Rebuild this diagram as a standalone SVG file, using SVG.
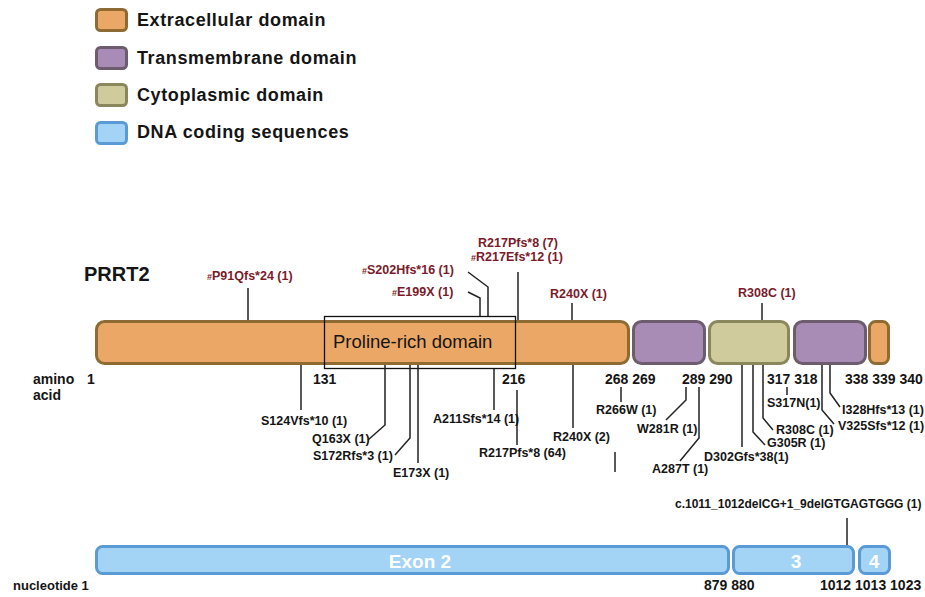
<svg xmlns="http://www.w3.org/2000/svg" width="925" height="597" viewBox="0 0 925 597">
  <style>
    text { font-family: "Liberation Sans", Arial, sans-serif; font-weight: bold; fill: #151515; }
    .leg { font-size: 18px; letter-spacing: 0.6px; }
    .num { font-size: 14px; }
    .mut { font-size: 12.5px; }
    .red { font-size: 12.5px; fill: #7a1b2b; }
    .hash { font-size: 9px; }
    .exon { font-size: 19px; fill: #ffffff; }
    .ext { fill: #eba766; stroke: #8e6b33; stroke-width: 3; }
    .tm { fill: #a98cb5; stroke: #6d5b6e; stroke-width: 3; }
    .cyt { fill: #cfcb9c; stroke: #8a875c; stroke-width: 3; }
    .dna { fill: #a3d3f5; stroke: #5b9bd5; stroke-width: 3; }
    .conn path { fill: none; stroke: #222; stroke-width: 1.5; }
  </style>

  <!-- legend -->
  <g id="legend">
    <rect class="ext" x="96.5" y="9.5" width="30" height="21" rx="4"/>
    <text class="leg" x="137" y="26">Extracellular domain</text>
    <rect class="tm" x="96.5" y="47.5" width="30" height="21" rx="4"/>
    <text class="leg" x="137" y="64">Transmembrane domain</text>
    <rect class="cyt" x="96.5" y="84.5" width="30" height="21" rx="4"/>
    <text class="leg" x="137" y="101">Cytoplasmic domain</text>
    <rect class="dna" x="96.5" y="122.5" width="30" height="21" rx="4"/>
    <text class="leg" x="137" y="138">DNA coding sequences</text>
  </g>

  <text id="title" x="84" y="281" style="font-size:20px">PRRT2</text>

  <!-- protein domains -->
  <g id="protein">
    <rect id="extracellular-1" class="ext" x="96.5" y="321.5" width="532" height="42" rx="8"/>
    <rect id="transmembrane-1" class="tm" x="633.5" y="321.5" width="71" height="42" rx="8"/>
    <rect id="cytoplasmic" class="cyt" x="709.5" y="321.5" width="79" height="42" rx="8"/>
    <rect id="transmembrane-2" class="tm" x="794.5" y="321.5" width="71" height="42" rx="8"/>
    <rect id="extracellular-2" class="ext" x="869.5" y="321.5" width="19" height="42" rx="6"/>
  </g>

  <g id="proline-rich">
    <rect x="324.5" y="316.5" width="191" height="52" fill="none" stroke="#111" stroke-width="1.3"/>
    <text x="333" y="348" style="font-size:18.5px;font-weight:normal">Proline-rich domain</text>
  </g>

  <!-- amino acid coordinates -->
  <g id="aa-axis">
    <text class="num" x="33" y="384">amino</text>
    <text class="num" x="33" y="400">acid</text>
    <text class="num" x="87" y="384">1</text>
    <text class="num" x="313" y="384">131</text>
    <text class="num" x="502" y="384">216</text>
    <text class="num" x="605" y="384">268 269</text>
    <text class="num" x="682" y="384">289 290</text>
    <text class="num" x="767" y="384">317 318</text>
    <text class="num" x="845" y="384">338 339 340</text>
  </g>

  <!-- exons -->
  <g id="exons">
    <rect id="exon-2" class="dna" x="96.5" y="546.5" width="632" height="27" rx="6"/>
    <rect id="exon-3" class="dna" x="733.5" y="546.5" width="120" height="27" rx="6"/>
    <rect id="exon-4" class="dna" x="859.5" y="546.5" width="30" height="27" rx="6"/>
    <text class="exon" x="420" y="568" text-anchor="middle">Exon 2</text>
    <text class="exon" x="796" y="568" text-anchor="middle">3</text>
    <text class="exon" x="874" y="568" text-anchor="middle">4</text>
  </g>

  <g id="nt-axis">
    <text class="num" x="13" y="590" style="font-size:13px">nucleotide 1</text>
    <text class="num" x="704" y="590">879 880</text>
    <text class="num" x="820" y="590">1012 1013 1023</text>
  </g>

  <!-- connectors -->
  <g id="connectors" class="conn">
    <path d="M248 288 V320"/>
    <path d="M468 272 L488 287 V316"/>
    <path d="M468 292 L480 298 V316"/>
    <path d="M518 272 V320"/>
    <path d="M572 303 V320"/>
    <path d="M762 303 V320"/>
    <path d="M301 365 V410"/>
    <path d="M385 365 V425 L368 440"/>
    <path d="M410 365 V438 L395 455"/>
    <path d="M418 365 V463"/>
    <path d="M494 369 V410"/>
    <path d="M517 390 V445"/>
    <path d="M573 365 V428"/>
    <path d="M615 452 V472"/>
    <path d="M621 387 V402"/>
    <path d="M686 387 V400 L666 420"/>
    <path d="M699 387 V438 L680 461"/>
    <path d="M742 365 V447"/>
    <path d="M753 365 V432 L765 445"/>
    <path d="M763 365 V418 L773 430"/>
    <path d="M787 387 V395"/>
    <path d="M822 365 V410 L834 424"/>
    <path d="M830 365 V393 L840 407"/>
    <path d="M847 518 V545"/>
  </g>

  <!-- variants above the protein -->
  <g id="variants-top">
    <text class="red" x="207" y="280"><tspan class="hash">#</tspan>P91Qfs*24 (1)</text>
    <text class="red" x="362" y="274"><tspan class="hash">#</tspan>S202Hfs*16 (1)</text>
    <text class="red" x="392" y="296"><tspan class="hash">#</tspan>E199X (1)</text>
    <text class="red" x="478" y="247">R217Pfs*8 (7)</text>
    <text class="red" x="471" y="261"><tspan class="hash">#</tspan>R217Efs*12 (1)</text>
    <text class="red" x="550" y="298">R240X (1)</text>
    <text class="red" x="738" y="297">R308C (1)</text>
  </g>

  <!-- variants below the protein -->
  <g id="variants-bottom">
    <text class="mut" x="261" y="425">S124Vfs*10 (1)</text>
    <text class="mut" x="312" y="443">Q163X (1)</text>
    <text class="mut" x="313" y="460">S172Rfs*3 (1)</text>
    <text class="mut" x="393" y="477">E173X (1)</text>
    <text class="mut" x="433" y="423">A211Sfs*14 (1)</text>
    <text class="mut" x="479" y="457">R217Pfs*8 (64)</text>
    <text class="mut" x="553" y="441">R240X (2)</text>
    <text class="mut" x="596" y="414">R266W (1)</text>
    <text class="mut" x="637" y="433">W281R (1)</text>
    <text class="mut" x="652" y="473">A287T (1)</text>
    <text class="mut" x="704" y="461">D302Gfs*38(1)</text>
    <text class="mut" x="767" y="447">G305R (1)</text>
    <text class="mut" x="776" y="434">R308C (1)</text>
    <text class="mut" x="767" y="407">S317N(1)</text>
    <text class="mut" x="838" y="430">V325Sfs*12 (1)</text>
    <text class="mut" x="842" y="414">I328Hfs*13 (1)</text>
  </g>

  <g id="variant-splice">
    <text x="675" y="508" style="font-size:12px">c.1011_1012delCG+1_9delGTGAGTGGG (1)</text>
  </g>
</svg>
